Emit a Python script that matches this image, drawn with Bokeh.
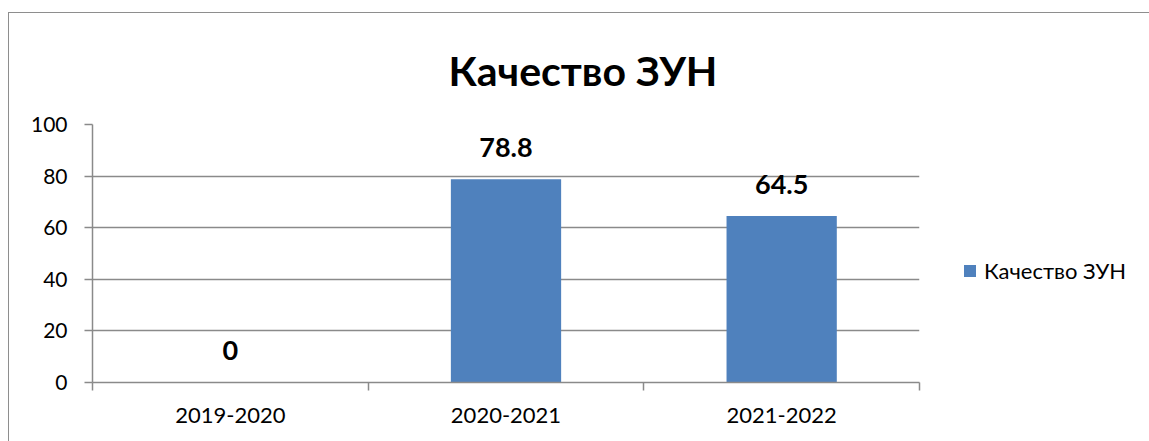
from bokeh.plotting import figure
from bokeh.models import (FactorRange, Range1d, LinearAxis, FixedTicker, ColumnDataSource,
                          Legend, LegendItem)
from bokeh.core.properties import value
from bokeh.embed import file_html
from bokeh.resources import INLINE

# ---- data ----
categories = ["2019-2020", "2020-2021", "2021-2022"]
values = [0, 78.8, 64.5]
series_name = "Качество ЗУН"
title_text = "Качество ЗУН"
y_ticks = [0, 20, 40, 60, 80, 100]

FONT = "Lato"
GRAY = "#8a8a8a"
BAR = "#4F81BD"

p = figure(frame_width=827, frame_height=258, output_backend="svg", toolbar_location=None,
           x_range=FactorRange(factors=categories, range_padding=0),
           y_range=Range1d(0, 100), x_axis_type=None,
           min_border_left=83, min_border_right=230, min_border_top=111, min_border_bottom=59)
p.styles = {"border-left": "1px solid #8e8e8e", "border-top": "1px solid #8e8e8e",
            "margin-top": "12px", "margin-left": "8px"}
p.outline_line_color = None
p.background_fill_color = "white"
p.border_fill_color = "white"
p.xgrid.visible = False
p.ygrid.grid_line_color = GRAY
p.ygrid.grid_line_width = 1.5
p.ygrid.ticker = FixedTicker(ticks=y_ticks)

# title
p.title.text = title_text
p.title.text_font = FONT
p.title.text_font_style = "bold"
p.title.text_font_size = "41px"
p.title.text_color = "black"
p.title.align = "left"
p.title.offset = 356
p.title.standoff = 60

# y axis
ya = p.yaxis[0]
ya.ticker = FixedTicker(ticks=y_ticks)
ya.axis_line_color = GRAY
ya.axis_line_width = 1.5
ya.major_tick_line_color = GRAY
ya.major_tick_line_width = 1.5
ya.major_tick_out = 8
ya.major_tick_in = 0
ya.minor_tick_line_color = None
ya.major_label_standoff = 17
ya.major_label_text_font = FONT
ya.major_label_text_font_size = "21px"
ya.major_label_text_color = "black"

# x axis: ticks at category boundaries (synthetic coords), labels at centers
n = len(categories)
xa = LinearAxis(ticker=FixedTicker(ticks=[i + 0.5 for i in range(n)],
                                   minor_ticks=list(range(n + 1))),
                major_label_overrides={i + 0.5: c for i, c in enumerate(categories)})
xa.axis_line_color = GRAY
xa.axis_line_width = 1.5
xa.major_tick_line_color = None
xa.major_tick_out = 0
xa.major_tick_in = 0
xa.minor_tick_line_color = GRAY
xa.minor_tick_line_width = 1.5
xa.minor_tick_out = 8
xa.minor_tick_in = 0
xa.major_label_standoff = 17
xa.major_label_text_font = FONT
xa.major_label_text_font_size = "22px"
xa.major_label_text_color = "black"
p.add_layout(xa, "below")

src = ColumnDataSource(dict(x=categories, top=values, label=[f"{v:g}" for v in values]))
bars = p.vbar(x="x", top="top", width=0.4, source=src, fill_color=BAR, line_color=None)
p.text(x="x", y="top", text="label", source=src, text_font=value(FONT), text_font_style="bold",
       text_font_size="27px", text_align="center", text_baseline="alphabetic", y_offset=-32,
       text_color="black")

legend = Legend(items=[LegendItem(label=series_name, renderers=[bars])],
                location=(43, 98), padding=0, margin=0, border_line_color=None,
                background_fill_alpha=0, glyph_width=15, glyph_height=15, label_standoff=7,
                label_text_font=FONT, label_text_font_size="22px", label_text_color="black")
p.add_layout(legend, "right")

open("out.html", "w").write(file_html(p, INLINE))
